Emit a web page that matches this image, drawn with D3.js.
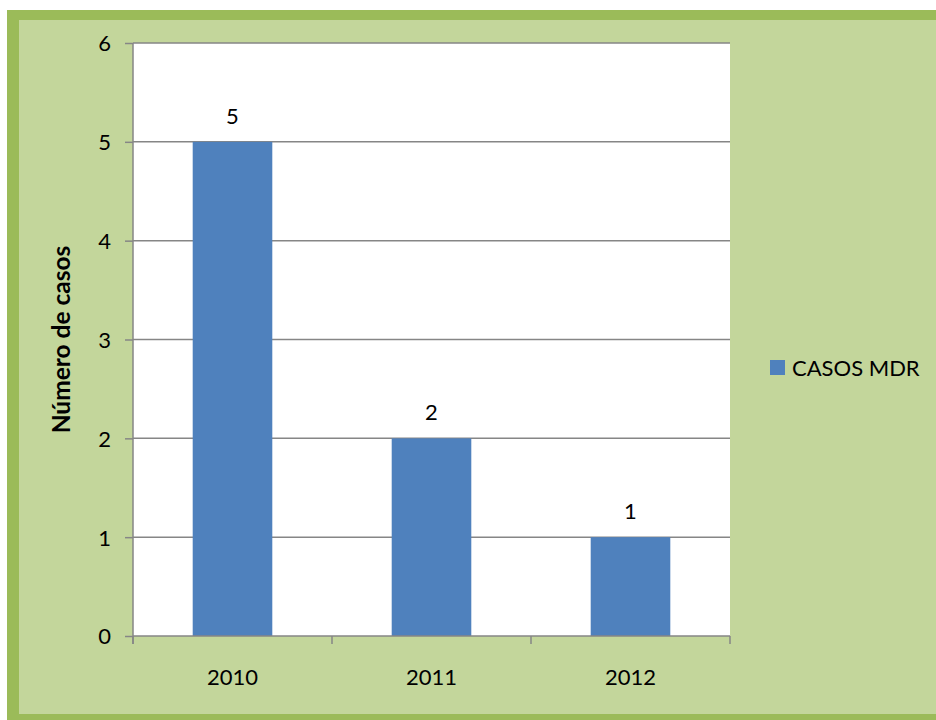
<!DOCTYPE html>
<html>
<head>
<meta charset="utf-8">
<script src="https://cdn.jsdelivr.net/npm/d3@7/dist/d3.min.js"></script>
<style>
  html, body { margin: 0; padding: 0; background: #ffffff; }
  svg { display: block; }
  text { font-family: Lato, "Open Sans", sans-serif; fill: #000; }
</style>
</head>
<body>
<svg id="chart" width="936" height="720"></svg>
<script>
// Casos MDR por año
const years = ["2010", "2011", "2012"];
const casos = [5, 2, 1];
const yTicks = [0, 1, 2, 3, 4, 5, 6];
const seriesName = "CASOS MDR";
const yTitle = "Número de casos";

const W = 936, H = 720;
const plot = { left: 133, right: 730, top: 43, bottom: 636 };

const svg = d3.select("#chart");

// Frame: dark green band with light green panel
svg.append("rect").attr("x", 7).attr("y", 10).attr("width", W - 7).attr("height", H - 10)
  .attr("fill", "#9BBB59");
svg.append("rect").attr("x", 19).attr("y", 20).attr("width", W - 19).attr("height", 714 - 20)
  .attr("fill", "#C3D69B");

// Plot area
svg.append("rect")
  .attr("x", plot.left).attr("y", plot.top)
  .attr("width", plot.right - plot.left).attr("height", plot.bottom - plot.top)
  .attr("fill", "#ffffff");

const x = d3.scaleBand().domain(years).range([plot.left, plot.right])
  .paddingInner(0.6).paddingOuter(0.3);
const y = d3.scaleLinear().domain([0, 6]).range([plot.bottom, plot.top]);

// Gridlines
svg.append("g").selectAll("line").data(yTicks.filter(d => d > 0)).join("line")
  .attr("x1", plot.left).attr("x2", plot.right)
  .attr("y1", d => y(d)).attr("y2", d => y(d))
  .attr("stroke", "#868686").attr("stroke-width", 1.5);

// Bars
svg.append("g").selectAll("rect").data(years).join("rect")
  .attr("x", d => x(d))
  .attr("width", x.bandwidth())
  .attr("y", (d, i) => y(casos[i]))
  .attr("height", (d, i) => y(0) - y(casos[i]))
  .attr("fill", "#4F81BD");

// Value labels
svg.append("g").selectAll("text").data(years).join("text")
  .attr("x", d => x(d) + x.bandwidth() / 2)
  .attr("y", (d, i) => y(casos[i]) - 18)
  .attr("text-anchor", "middle")
  .attr("font-size", 22)
  .text((d, i) => casos[i]);

// Y axis
const yAxis = d3.axisLeft(y).tickValues(yTicks).tickSize(8).tickPadding(14)
  .tickFormat(d3.format("d"));
const gy = svg.append("g").attr("transform", `translate(${plot.left},0)`).call(yAxis);
gy.select(".domain").attr("stroke", "#868686").attr("stroke-width", 1.5)
  .attr("d", `M0,${plot.bottom + 8}V${plot.top}`);
gy.selectAll(".tick line").attr("stroke", "#868686").attr("stroke-width", 1.5);
gy.selectAll(".tick text").attr("font-size", 22).attr("font-family", "Lato, sans-serif")
  .attr("fill", "#000").attr("dy", "0.36em");

// X axis (ticks at category boundaries)
const boundaries = [plot.left].concat(years.map(d => x(d) + x.bandwidth() + x.step() * 0.3));
const gx = svg.append("g");
gx.append("line").attr("x1", plot.left).attr("x2", plot.right)
  .attr("y1", plot.bottom).attr("y2", plot.bottom)
  .attr("stroke", "#868686").attr("stroke-width", 1.5);
gx.selectAll("line.tk").data(boundaries).join("line").attr("class", "tk")
  .attr("x1", d => d).attr("x2", d => d)
  .attr("y1", plot.bottom).attr("y2", plot.bottom + 8)
  .attr("stroke", "#868686").attr("stroke-width", 1.5);
gx.selectAll("text").data(years).join("text")
  .attr("x", d => x(d) + x.bandwidth() / 2)
  .attr("y", 685)
  .attr("text-anchor", "middle")
  .attr("font-size", 22)
  .text(d => d);

// Y axis title
svg.append("text")
  .attr("transform", `translate(70,${(plot.top + plot.bottom) / 2}) rotate(-90)`)
  .attr("text-anchor", "middle")
  .attr("font-size", 24.5).attr("font-weight", "bold")
  .text(yTitle);

// Legend
const lg = svg.append("g").attr("transform", "translate(770,360)");
lg.append("rect").attr("width", 15).attr("height", 15).attr("fill", "#4F81BD");
lg.append("text").attr("x", 22).attr("y", 16).attr("font-size", 22).text(seriesName);
</script>
</body>
</html>
